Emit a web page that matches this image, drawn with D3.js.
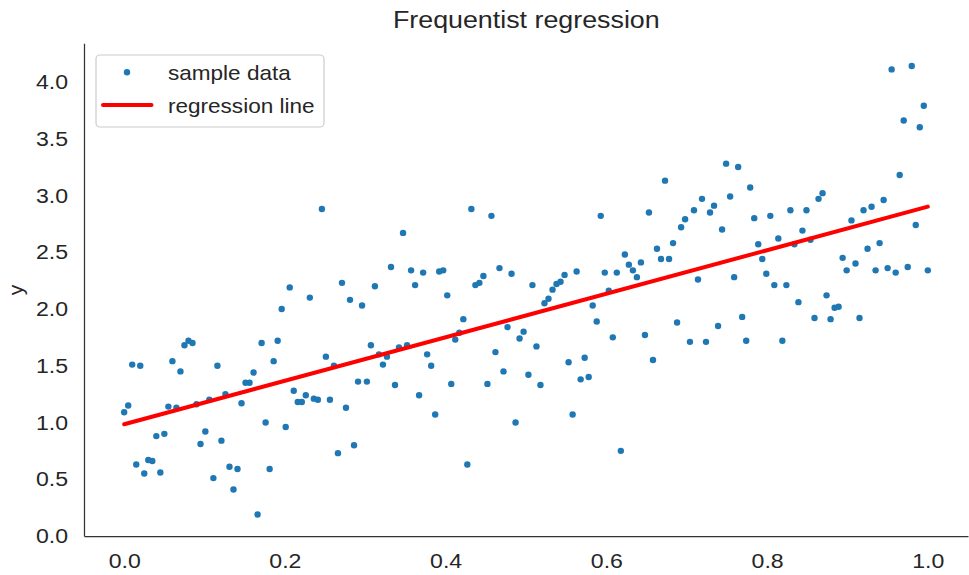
<!DOCTYPE html>
<html>
<head>
<meta charset="utf-8">
<script src="https://cdn.jsdelivr.net/npm/d3@7"></script>
<style>
  html, body { margin: 0; padding: 0; background: #fff; }
  svg { display: block; font-family: "Liberation Sans", Arial, sans-serif; }
</style>
</head>
<body>
<svg id="chart" width="969" height="575"></svg>
<script>
// ---- data ----
const xValues = [
  0.000,0.005,0.010,0.015,0.020,0.025,0.030,0.035,0.040,0.045,
  0.050,0.055,0.060,0.065,0.070,0.075,0.080,0.085,0.090,0.095,
  0.101,0.106,0.111,0.116,0.121,0.126,0.131,0.136,0.141,0.146,
  0.151,0.156,0.161,0.166,0.171,0.176,0.181,0.186,0.191,0.196,
  0.201,0.206,0.211,0.216,0.221,0.226,0.231,0.236,0.241,0.246,
  0.251,0.256,0.261,0.266,0.271,0.276,0.281,0.286,0.291,0.296,
  0.302,0.307,0.312,0.317,0.322,0.327,0.332,0.337,0.342,0.347,
  0.352,0.357,0.362,0.367,0.372,0.377,0.382,0.387,0.392,0.397,
  0.402,0.407,0.412,0.417,0.422,0.427,0.432,0.437,0.442,0.447,
  0.452,0.457,0.462,0.467,0.472,0.477,0.482,0.487,0.492,0.497,
  0.503,0.508,0.513,0.518,0.523,0.528,0.533,0.538,0.543,0.548,
  0.553,0.558,0.563,0.568,0.573,0.578,0.583,0.588,0.593,0.598,
  0.603,0.608,0.613,0.618,0.623,0.628,0.633,0.638,0.643,0.648,
  0.653,0.658,0.663,0.668,0.673,0.678,0.683,0.688,0.693,0.698,
  0.704,0.709,0.714,0.719,0.724,0.729,0.734,0.739,0.744,0.749,
  0.754,0.759,0.764,0.769,0.774,0.779,0.784,0.789,0.794,0.799,
  0.804,0.809,0.814,0.819,0.824,0.829,0.834,0.839,0.844,0.849,
  0.854,0.859,0.864,0.869,0.874,0.879,0.884,0.889,0.894,0.899,
  0.905,0.910,0.915,0.920,0.925,0.930,0.935,0.940,0.945,0.950,
  0.955,0.960,0.965,0.970,0.975,0.980,0.985,0.990,0.995,1.000
];
const yValues = [
  1.09,1.15,1.51,0.63,1.50,0.55,0.67,0.66,0.88,0.56,
  0.90,1.14,1.54,1.13,1.45,1.68,1.72,1.70,1.16,0.81,
  0.92,1.20,0.51,1.50,0.84,1.25,0.61,0.41,0.59,1.17,
  1.35,1.35,1.44,0.19,1.70,1.00,0.59,1.54,1.72,2.00,
  0.96,2.19,1.28,1.18,1.18,1.24,2.10,1.21,1.20,2.88,
  1.58,1.20,1.50,0.73,2.23,1.13,2.08,0.80,1.36,2.03,
  1.36,1.68,2.20,1.60,1.51,1.58,2.37,1.33,1.66,2.67,
  1.68,2.34,2.21,1.24,2.32,1.60,1.50,1.07,2.33,2.34,
  2.12,1.34,1.73,1.79,1.91,0.63,2.88,2.21,2.23,2.29,
  1.34,2.82,1.62,2.36,1.45,1.84,2.31,1.00,1.74,1.80,
  1.42,2.21,1.67,1.33,2.05,2.09,2.17,2.22,2.24,2.30,
  1.53,1.07,2.33,1.38,1.57,1.40,2.03,1.89,2.82,2.32,
  2.16,1.75,2.32,0.75,2.48,2.39,2.34,2.28,2.41,1.77,
  2.85,1.55,2.53,2.44,3.13,2.44,2.58,1.88,2.72,2.79,
  1.71,2.87,2.26,2.97,1.71,2.85,2.91,1.85,2.70,3.28,
  2.99,2.28,3.25,1.93,1.72,3.07,2.80,2.57,2.44,2.31,
  2.82,2.21,2.62,1.72,2.21,2.87,2.57,2.06,2.69,2.87,
  2.61,1.92,2.97,3.02,2.12,1.91,2.01,2.02,2.45,2.34,
  2.78,2.40,1.92,2.87,2.53,2.90,2.34,2.58,2.96,2.36,
  4.11,2.32,3.18,3.66,2.37,4.14,2.74,3.60,3.79,2.34
];
const lineX = [0, 1];
const lineY = [0.984, 2.901];
const xTicks = [0.0, 0.2, 0.4, 0.6, 0.8, 1.0];
const yTicks = [0.0, 0.5, 1.0, 1.5, 2.0, 2.5, 3.0, 3.5, 4.0];
const legendLabels = ["sample data", "regression line"];
const titleText = "Frequentist regression";
const yLabelText = "y";

// ---- layout ----
const svg = d3.select("#chart");
const plotLeft = 84, plotRight = 968, plotTop = 43.3, plotBottom = 536;
const x = d3.scaleLinear().domain([-0.05, 1.05]).range([plotLeft, plotRight]);
const y = d3.scaleLinear().domain([0, 4.34]).range([plotBottom, plotTop]);
const textColor = "#262626";
const stretch = "scale(1.1,1)";

// axes
const gx = svg.append("g").attr("transform", `translate(0,${plotBottom})`)
  .call(d3.axisBottom(x).tickValues(xTicks).tickFormat(d3.format(".1f")).tickSize(0).tickSizeOuter(0).tickPadding(17));
const gy = svg.append("g").attr("transform", `translate(${plotLeft},0)`)
  .call(d3.axisLeft(y).tickValues(yTicks).tickFormat(d3.format(".1f")).tickSize(0).tickSizeOuter(0).tickPadding(14.5));
[gx, gy].forEach(g => {
  g.select(".domain").attr("stroke", "#333").attr("stroke-width", 1.25);
  g.selectAll(".tick text").attr("fill", textColor).attr("font-size", 21)
    .attr("font-family", "Liberation Sans, Arial, sans-serif").attr("transform", stretch);
});

// points
svg.append("g").selectAll("circle")
  .data(xValues.map((d, i) => [d, yValues[i]]))
  .join("circle")
  .attr("cx", d => x(d[0])).attr("cy", d => y(d[1]))
  .attr("r", 3.2).attr("fill", "#1f77b4");

// regression line
svg.append("path")
  .datum(lineX.map((d, i) => [d, lineY[i]]))
  .attr("d", d3.line().x(d => x(d[0])).y(d => y(d[1])))
  .attr("stroke", "#ff0000").attr("stroke-width", 4).attr("fill", "none")
  .attr("stroke-linecap", "round");

// title
svg.append("g").attr("transform", `translate(526.3,28.3) ${stretch}`)
  .append("text").attr("text-anchor", "middle").attr("font-size", 24.4)
  .attr("fill", textColor).text(titleText);

// y label
svg.append("g").attr("transform", "translate(22.9,290) rotate(-90)")
  .append("text").attr("text-anchor", "middle").attr("font-size", 21)
  .attr("fill", textColor).text(yLabelText);

// legend
const lg = svg.append("g");
lg.append("rect").attr("x", 96).attr("y", 55).attr("width", 228).attr("height", 72)
  .attr("rx", 4).attr("fill", "#fff").attr("fill-opacity", 0.8)
  .attr("stroke", "#cccccc").attr("stroke-width", 1.2);
lg.append("circle").attr("cx", 127).attr("cy", 72.3).attr("r", 3.2).attr("fill", "#1f77b4");
lg.append("line").attr("x1", 103).attr("x2", 151.5).attr("y1", 105).attr("y2", 105)
  .attr("stroke", "#ff0000").attr("stroke-width", 4).attr("stroke-linecap", "round");
legendLabels.forEach((t, i) => {
  lg.append("g").attr("transform", `translate(168,${80 + i * 32.7}) ${stretch}`)
    .append("text").attr("font-size", 20.5).attr("fill", textColor).text(t);
});
</script>
</body>
</html>
